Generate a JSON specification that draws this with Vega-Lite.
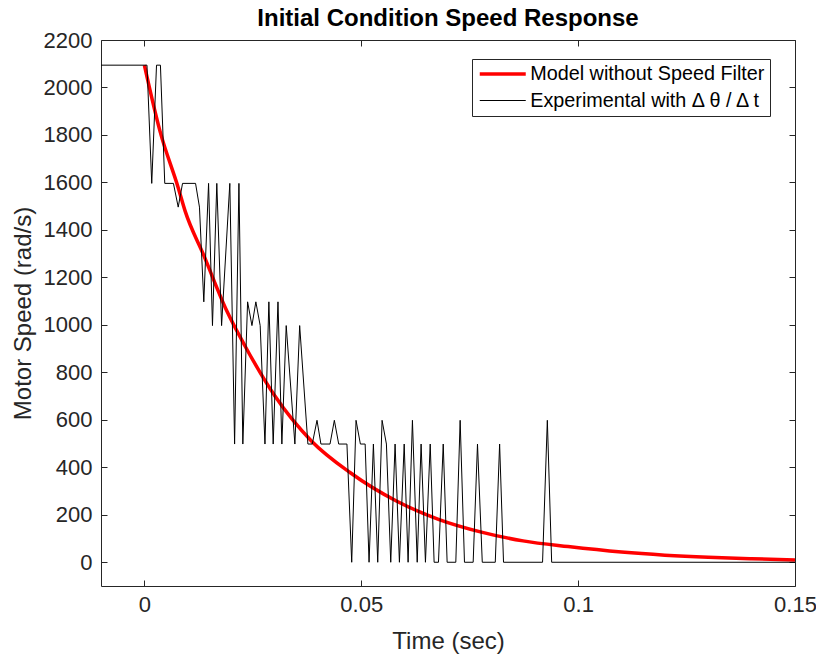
{
  "$schema": "https://vega.github.io/schema/vega-lite/v6.json",
  "width": 694,
  "height": 546,
  "autosize": {"type": "none"},
  "padding": {"left": 101, "top": 40, "right": 21, "bottom": 71},
  "background": "white",
  "title": {"text": "Initial Condition Speed Response", "fontSize": 24, "font": "Liberation Sans", "fontWeight": "bold", "color": "black", "offset": -2},
  "config": {"view": {"stroke": null}, "font": "Liberation Sans"},
  "datasets": {
    "model": [
      {"series": "Model without Speed Filter", "t": 0, "v": 2094},
      {"series": "Model without Speed Filter", "t": 0.0036, "v": 1816},
      {"series": "Model without Speed Filter", "t": 0.0078, "v": 1578},
      {"series": "Model without Speed Filter", "t": 0.0094, "v": 1479},
      {"series": "Model without Speed Filter", "t": 0.0136, "v": 1297},
      {"series": "Model without Speed Filter", "t": 0.0191, "v": 1055},
      {"series": "Model without Speed Filter", "t": 0.0232, "v": 911},
      {"series": "Model without Speed Filter", "t": 0.0301, "v": 700},
      {"series": "Model without Speed Filter", "t": 0.0385, "v": 511},
      {"series": "Model without Speed Filter", "t": 0.0474, "v": 378},
      {"series": "Model without Speed Filter", "t": 0.0581, "v": 258},
      {"series": "Model without Speed Filter", "t": 0.0678, "v": 181},
      {"series": "Model without Speed Filter", "t": 0.0777, "v": 127},
      {"series": "Model without Speed Filter", "t": 0.0873, "v": 90},
      {"series": "Model without Speed Filter", "t": 0.0977, "v": 66},
      {"series": "Model without Speed Filter", "t": 0.11, "v": 43},
      {"series": "Model without Speed Filter", "t": 0.12, "v": 30},
      {"series": "Model without Speed Filter", "t": 0.13, "v": 21},
      {"series": "Model without Speed Filter", "t": 0.14, "v": 15},
      {"series": "Model without Speed Filter", "t": 0.15, "v": 10}
    ],
    "exp": [
      {"series": "Experimental with Δ θ / Δ t", "t": -0.01, "v": 2094},
      {"series": "Experimental with Δ θ / Δ t", "t": 0.0006, "v": 2094},
      {"series": "Experimental with Δ θ / Δ t", "t": 0.0017, "v": 1596},
      {"series": "Experimental with Δ θ / Δ t", "t": 0.0028, "v": 2094},
      {"series": "Experimental with Δ θ / Δ t", "t": 0.0037, "v": 2094},
      {"series": "Experimental with Δ θ / Δ t", "t": 0.0047, "v": 1596},
      {"series": "Experimental with Δ θ / Δ t", "t": 0.0067, "v": 1596},
      {"series": "Experimental with Δ θ / Δ t", "t": 0.0078, "v": 1496},
      {"series": "Experimental with Δ θ / Δ t", "t": 0.0088, "v": 1596},
      {"series": "Experimental with Δ θ / Δ t", "t": 0.0118, "v": 1596},
      {"series": "Experimental with Δ θ / Δ t", "t": 0.0127, "v": 1496},
      {"series": "Experimental with Δ θ / Δ t", "t": 0.0137, "v": 1097},
      {"series": "Experimental with Δ θ / Δ t", "t": 0.0148, "v": 1596},
      {"series": "Experimental with Δ θ / Δ t", "t": 0.0157, "v": 997},
      {"series": "Experimental with Δ θ / Δ t", "t": 0.0167, "v": 1596},
      {"series": "Experimental with Δ θ / Δ t", "t": 0.0178, "v": 997},
      {"series": "Experimental with Δ θ / Δ t", "t": 0.0197, "v": 1596},
      {"series": "Experimental with Δ θ / Δ t", "t": 0.0208, "v": 498},
      {"series": "Experimental with Δ θ / Δ t", "t": 0.0218, "v": 1596},
      {"series": "Experimental with Δ θ / Δ t", "t": 0.0227, "v": 498},
      {"series": "Experimental with Δ θ / Δ t", "t": 0.0238, "v": 1097},
      {"series": "Experimental with Δ θ / Δ t", "t": 0.0248, "v": 997},
      {"series": "Experimental with Δ θ / Δ t", "t": 0.0257, "v": 1097},
      {"series": "Experimental with Δ θ / Δ t", "t": 0.0267, "v": 997},
      {"series": "Experimental with Δ θ / Δ t", "t": 0.0278, "v": 498},
      {"series": "Experimental with Δ θ / Δ t", "t": 0.0287, "v": 1097},
      {"series": "Experimental with Δ θ / Δ t", "t": 0.0297, "v": 498},
      {"series": "Experimental with Δ θ / Δ t", "t": 0.0308, "v": 1097},
      {"series": "Experimental with Δ θ / Δ t", "t": 0.0317, "v": 498},
      {"series": "Experimental with Δ θ / Δ t", "t": 0.0327, "v": 997},
      {"series": "Experimental with Δ θ / Δ t", "t": 0.0347, "v": 498},
      {"series": "Experimental with Δ θ / Δ t", "t": 0.0358, "v": 997},
      {"series": "Experimental with Δ θ / Δ t", "t": 0.0377, "v": 498},
      {"series": "Experimental with Δ θ / Δ t", "t": 0.0387, "v": 498},
      {"series": "Experimental with Δ θ / Δ t", "t": 0.0398, "v": 598},
      {"series": "Experimental with Δ θ / Δ t", "t": 0.0407, "v": 498},
      {"series": "Experimental with Δ θ / Δ t", "t": 0.0428, "v": 498},
      {"series": "Experimental with Δ θ / Δ t", "t": 0.0438, "v": 598},
      {"series": "Experimental with Δ θ / Δ t", "t": 0.0448, "v": 498},
      {"series": "Experimental with Δ θ / Δ t", "t": 0.0467, "v": 498},
      {"series": "Experimental with Δ θ / Δ t", "t": 0.0478, "v": 0},
      {"series": "Experimental with Δ θ / Δ t", "t": 0.0488, "v": 598},
      {"series": "Experimental with Δ θ / Δ t", "t": 0.0498, "v": 498},
      {"series": "Experimental with Δ θ / Δ t", "t": 0.0509, "v": 498},
      {"series": "Experimental with Δ θ / Δ t", "t": 0.0518, "v": 0},
      {"series": "Experimental with Δ θ / Δ t", "t": 0.0528, "v": 498},
      {"series": "Experimental with Δ θ / Δ t", "t": 0.0538, "v": 0},
      {"series": "Experimental with Δ θ / Δ t", "t": 0.0548, "v": 598},
      {"series": "Experimental with Δ θ / Δ t", "t": 0.0558, "v": 498},
      {"series": "Experimental with Δ θ / Δ t", "t": 0.0568, "v": 0},
      {"series": "Experimental with Δ θ / Δ t", "t": 0.0578, "v": 498},
      {"series": "Experimental with Δ θ / Δ t", "t": 0.0588, "v": 0},
      {"series": "Experimental with Δ θ / Δ t", "t": 0.0599, "v": 498},
      {"series": "Experimental with Δ θ / Δ t", "t": 0.0608, "v": 0},
      {"series": "Experimental with Δ θ / Δ t", "t": 0.0618, "v": 598},
      {"series": "Experimental with Δ θ / Δ t", "t": 0.0629, "v": 0},
      {"series": "Experimental with Δ θ / Δ t", "t": 0.0638, "v": 498},
      {"series": "Experimental with Δ θ / Δ t", "t": 0.0648, "v": 0},
      {"series": "Experimental with Δ θ / Δ t", "t": 0.0659, "v": 498},
      {"series": "Experimental with Δ θ / Δ t", "t": 0.0668, "v": 0},
      {"series": "Experimental with Δ θ / Δ t", "t": 0.0678, "v": 0},
      {"series": "Experimental with Δ θ / Δ t", "t": 0.0689, "v": 498},
      {"series": "Experimental with Δ θ / Δ t", "t": 0.0698, "v": 0},
      {"series": "Experimental with Δ θ / Δ t", "t": 0.0718, "v": 0},
      {"series": "Experimental with Δ θ / Δ t", "t": 0.0728, "v": 598},
      {"series": "Experimental with Δ θ / Δ t", "t": 0.0738, "v": 0},
      {"series": "Experimental with Δ θ / Δ t", "t": 0.0758, "v": 0},
      {"series": "Experimental with Δ θ / Δ t", "t": 0.0768, "v": 498},
      {"series": "Experimental with Δ θ / Δ t", "t": 0.0779, "v": 0},
      {"series": "Experimental with Δ θ / Δ t", "t": 0.0809, "v": 0},
      {"series": "Experimental with Δ θ / Δ t", "t": 0.0819, "v": 498},
      {"series": "Experimental with Δ θ / Δ t", "t": 0.0828, "v": 0},
      {"series": "Experimental with Δ θ / Δ t", "t": 0.0918, "v": 0},
      {"series": "Experimental with Δ θ / Δ t", "t": 0.0929, "v": 598},
      {"series": "Experimental with Δ θ / Δ t", "t": 0.0939, "v": 0},
      {"series": "Experimental with Δ θ / Δ t", "t": 0.15, "v": 0}
    ]
  },
  "layer": [
    {
      "data": {"name": "model"},
      "mark": {"type": "line", "interpolate": "monotone", "clip": true},
      "encoding": {
        "x": {"field": "t", "type": "quantitative",
          "scale": {"domain": [-0.01, 0.15], "nice": false, "zero": false},
          "axis": {"orient": "bottom", "values": [0, 0.05, 0.1, 0.15], "format": ".2~f", "grid": false,
            "title": "Time (sec)", "titleFontSize": 24, "titleFontWeight": "normal", "titleColor": "#262626", "titleFont": "Liberation Sans", "titlePadding": 14,
            "labelFontSize": 22, "labelColor": "#262626", "labelFont": "Liberation Sans", "labelPadding": 14,
            "domainColor": "#262626", "tickColor": "#262626", "tickSize": -6, "labelFlush": false, "labelOverlap": false}},
        "y": {"field": "v", "type": "quantitative",
          "scale": {"domain": [-100, 2200], "nice": false, "zero": false},
          "axis": {"orient": "left", "values": [0, 200, 400, 600, 800, 1000, 1200, 1400, 1600, 1800, 2000, 2200], "format": "d", "grid": false,
            "title": "Motor Speed (rad/s)", "titleFontSize": 24, "titleFontWeight": "normal", "titleColor": "#262626", "titleFont": "Liberation Sans", "titlePadding": 8,
            "labelFontSize": 22, "labelColor": "#262626", "labelFont": "Liberation Sans", "labelPadding": 15,
            "domainColor": "#262626", "tickColor": "#262626", "tickSize": -6, "labelFlush": false, "labelOverlap": false}},
        "color": {"field": "series", "type": "nominal",
          "scale": {"domain": ["Model without Speed Filter", "Experimental with Δ θ / Δ t"], "range": ["#ff0000", "#000000"]},
          "legend": {"title": null, "orient": "none", "legendX": 371, "legendY": 19, "strokeColor": "#262626", "fillColor": "white",
            "padding": 5.25, "symbolType": "stroke", "symbolSize": 100, "labelFontSize": 19.8, "labelColor": "black", "labelFont": "Liberation Sans",
            "rowPadding": 5.5, "clipHeight": 19.5, "labelOffset": 3, "labelLimit": 400,
            "encode": {"symbols": {"update": {"size": {"value": 2116}, "x": {"value": 25.5}}}}}},
        "strokeWidth": {"field": "series", "type": "nominal",
          "scale": {"domain": ["Model without Speed Filter", "Experimental with Δ θ / Δ t"], "range": [3.5, 1]},
          "legend": {"title": null, "orient": "none", "legendX": 371, "legendY": 19, "strokeColor": "#262626", "fillColor": "white",
            "padding": 5.25, "symbolType": "stroke", "symbolSize": 100, "labelFontSize": 19.8, "labelColor": "black", "labelFont": "Liberation Sans",
            "rowPadding": 5.5, "clipHeight": 19.5, "labelOffset": 3, "labelLimit": 400,
            "encode": {"symbols": {"update": {"size": {"value": 2116}, "x": {"value": 25.5}}}}}}
      }
    },
    {
      "data": {"name": "exp"},
      "mark": {"type": "line", "clip": true},
      "encoding": {
        "x": {"field": "t", "type": "quantitative",
          "scale": {"domain": [-0.01, 0.15], "nice": false, "zero": false},
          "axis": {"orient": "top", "values": [0, 0.05, 0.1, 0.15], "labels": false, "title": null, "grid": false,
            "domainColor": "#262626", "tickColor": "#262626", "tickSize": -6}},
        "y": {"field": "v", "type": "quantitative",
          "scale": {"domain": [-100, 2200], "nice": false, "zero": false},
          "axis": {"orient": "right", "values": [0, 200, 400, 600, 800, 1000, 1200, 1400, 1600, 1800, 2000, 2200], "labels": false, "title": null, "grid": false,
            "domainColor": "#262626", "tickColor": "#262626", "tickSize": -6}},
        "color": {"field": "series", "type": "nominal"},
        "strokeWidth": {"field": "series", "type": "nominal"}
      }
    }
  ],
  "resolve": {"axis": {"x": "independent", "y": "independent"}}
}
